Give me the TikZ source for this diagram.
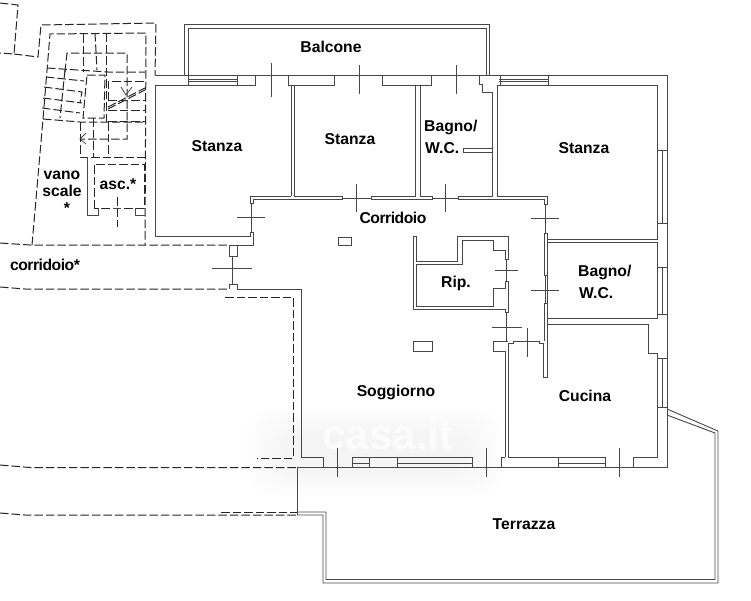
\documentclass[tikz,border=0pt]{standalone}
\usepackage{fontspec}
\setmainfont{Liberation Sans}
\tikzset{
  wall/.style={draw=black!72,line width=.9pt,line join=miter},
  thin wall/.style={draw=black!72,line width=.8pt},
  dash wall/.style={draw=black!85,line width=1pt,dash pattern=on 8.5pt off 3pt},
  room label/.style={font=\bfseries\fontsize{15.7}{18}\selectfont,text=black,inner sep=0pt,align=left},
  tight label/.style={room label,font=\bfseries\fontsize{15.7}{18}\selectfont\addfontfeature{LetterSpace=-3}},
  glow/.style={fill=black,fill opacity=.0028,draw=none}
}
\begin{document}
\begin{tikzpicture}[x=1pt,y=-1pt]
\useasboundingbox[fill=white] (0,0) rectangle (751,600);
% watermark glow
\foreach \d in {0,4,...,36} {
  \fill[glow,rounded corners=26pt] (245+\d,408+\d*.7) rectangle (505-\d,497-\d*.7);
}
\node[font=\bfseries\fontsize{42}{42}\selectfont,text=white,text opacity=.7,inner sep=0pt] (wm) at (388,434) {casa.it};

% ---------- dashed surroundings ----------
\draw[dash wall] (0,3) -- (18,5) -- (14,54) -- (0,53);
\draw[dash wall] (14,54) -- (38,57) -- (41,25) -- (156,23) -- (155,75);
\draw[dash wall] (0,243) -- (30,245) -- (229,245);
\draw[dash wall] (0,287) -- (25,289) -- (229,289);
\draw[dash wall] (225,297) -- (293,297) -- (293,458) -- (257,458);
\draw[dash wall] (0,465) -- (30,467.5) -- (297,467.5);
\draw[dash wall] (0,513) -- (25,515) -- (297,515);
\draw[dash wall] (221,512) -- (297,512);
% ---------- stairwell ----------
\draw[dash wall] (32,245) -- (43,119) -- (50,34) -- (146,33) -- (145,245);
\draw[dash wall] (47,68) -- (108,72) -- (145,72);
\draw[dash wall] (46,77) -- (84,81);
\draw[dash wall] (44,87) -- (82,92) -- (80,103);
\draw[dash wall] (43,98) -- (82,103);
\draw[dash wall] (42,108) -- (80,113);
\draw[dash wall] (43,119) -- (80,122) -- (145,122);
\draw[dash wall] (65,72) -- (67,53) -- (127,53) -- (127,139) -- (81,139);
\draw[dash wall] (83,34) -- (83,72);
\draw[dash wall] (95,33) -- (97,70);
\draw[dash wall] (106,33) -- (106,122);
\draw[dash wall] (65,70) -- (60,118);
\draw[dash wall] (87,75) -- (105,75) -- (104,118) -- (83,118) -- cycle;
\draw[dash wall] (108,100) -- (108,81) -- (145,81);
\draw[dash wall] (108,100) -- (145,100);
\draw[dash wall] (108,110) -- (145,110);
\draw[dash wall] (108,121) -- (145,121);
\draw[dash wall] (108,107) -- (145,88);
\draw[dash wall] (108,109) -- (145,90);
\draw[thin wall] (121,87) -- (126,95) -- (132,87);
\draw[thin wall] (86,133) -- (80,139) -- (86,144);
\draw[dash wall] (80,122) -- (80,157) -- (145,157);
\draw[dash wall] (93,118) -- (93,157);
\draw[dash wall] (108,122) -- (108,157);
\draw[wall] (87,157) -- (87,215) -- (98,215) -- (98,208);
\draw[dash wall] (94,208) -- (94,164) -- (144,164) -- (144,208) -- cycle;
\draw[wall] (135,208) -- (135,215) -- (145,215);
\draw[dash wall] (117,197) -- (117,227);
\draw[thin wall] (113,208) -- (121,208);

% ---------- balcony ----------
\draw[wall] (184,75) -- (184,24) -- (489,24) -- (489,75);
\draw[wall] (188,75) -- (188,28) -- (486,28) -- (486,75);
% ---------- outer walls ----------
\draw[wall] (155,75) -- (667,75) -- (667,467.5) -- (501,467.5);
% window stanza 1
\draw[wall] (188,75) -- (188,85);
\draw[wall] (237,75) -- (237,85);
\draw[thin wall] (188,79) -- (237,79) (188,81) -- (237,81);
% stanza 1
\draw[wall] (255,75) -- (255,85) -- (155,85) -- (155,236) -- (250,236) -- (250,232) -- (253,232) -- (253,245) -- (229,245) -- (229,256) -- (237,256) -- (237,245);
\draw[wall] (291,196) -- (250,196) -- (250,203) -- (253,203) -- (253,199) -- (342,199) -- (342,196) -- (294,196) -- (294,85) -- (288,85) -- (288,75);
\draw[wall] (291,85) -- (291,196);
\draw[thin wall] (251.5,203) -- (251.5,232);
\draw[thin wall] (232.5,256) -- (232.5,284);
\draw[wall] (229,289) -- (229,284) -- (237,284) -- (237,289) -- (301,289) -- (301,457) -- (323,457) -- (323,467.5);
\draw[thin wall] (237,217) -- (265,217);
\draw[thin wall] (212,268) -- (252,268);
\draw[thin wall] (271,63) -- (271,97);
% stanza 2
\draw[wall] (294,85) -- (334,85) -- (334,75);
\draw[wall] (382,75) -- (382,85) -- (431,85) -- (431,75);
\draw[wall] (415,85) -- (415,196) -- (371,196) -- (371,199) -- (432,199) -- (432,196) -- (420,196) -- (420,85);
\draw[thin wall] (359,65) -- (359,94);
\draw[thin wall] (342,198) -- (371,198);
\draw[thin wall] (356,184) -- (356,212);
% bagno 1
\draw[thin wall] (456,65) -- (456,94);
\draw[thin wall] (432,198) -- (458,198);
\draw[thin wall] (445,184) -- (445,212);
\draw[wall] (479,75) -- (479,84) -- (482,84) -- (482,92) -- (492,92) -- (492,196) -- (458,196) -- (458,199) -- (544,199) -- (544,204) -- (547,204) -- (547,196) -- (497,196) -- (497,85) -- (657,85) -- (657,239) -- (547,239);
\draw[wall] (500,75) -- (500,85);
\draw[wall] (492,148) -- (463,148) -- (463,152) -- (492,152);
% stanza 3 window top
\draw[wall] (548,75) -- (548,85);
\draw[thin wall] (499,79) -- (548,79) (499,81) -- (548,81);
% east windows
\draw[wall] (657,150) -- (667,150) (657,223) -- (667,223) (662,150) -- (662,223);
\draw[wall] (657,267) -- (667,267) (657,314) -- (667,314) (662,267) -- (662,314);
\draw[wall] (657,358) -- (667,358) (657,407) -- (667,407) (662,358) -- (662,407);
% right corridor wall
\draw[thin wall] (545.5,204) -- (545.5,233);
\draw[wall] (544,233) -- (547,233) -- (547,275) -- (544,275) -- cycle;
\draw[thin wall] (545.5,275) -- (545.5,303);
\draw[thin wall] (531,218) -- (559,218);
\draw[thin wall] (531,290) -- (559,290);
% bagno 2
\draw[wall] (547,242) -- (657,242) -- (657,318) -- (547,318) -- cycle;
\draw[wall] (544,303) -- (547,303) -- (547,377) -- (543,377) -- (543,343) -- (539,343) -- (539,341);
\draw[wall] (544,303) -- (544,341);
% cucina
\draw[wall] (547,324) -- (648,324) -- (648,353) -- (657,353) -- (657,457) -- (633,457) -- (633,467.5);
\draw[wall] (558,457) -- (558,467.5) (605,457) -- (605,467.5);
\draw[wall] (508,457) -- (605,457);
\draw[thin wall] (558,463) -- (605,463);
\draw[wall] (508,457) -- (508,343) -- (513,343) -- (513,341);
\draw[thin wall] (513,341) -- (539,341);
\draw[wall] (505,457) -- (505,351) -- (493,351) -- (493,341) -- (508,341);
\draw[wall] (505,457) -- (501,457) -- (501,467.5);
\draw[thin wall] (527,328) -- (527,357);
\draw[thin wall] (619,448) -- (619,477);
\draw[thin wall] (486,448) -- (486,477);
\draw[thin wall] (337,448) -- (337,477);
% bottom line and living-room window
\draw[wall] (297,467.5) -- (501,467.5);
\draw[wall] (352,467.5) -- (352,457) -- (472,457) -- (472,467.5);
\draw[wall] (369,457) -- (369,467.5) (397,457) -- (397,467.5);
\draw[thin wall] (352,463) -- (369,463) (397,463) -- (472,463);
% ripostiglio
\draw[wall] (416,306) -- (416,264) -- (462,264) -- (462,240) -- (493,240) -- (493,250) -- (505,250) -- (505,259) -- (508,259) -- (508,236) -- (457,236) -- (457,261) -- (416,261) -- (416,236) -- (413,236) -- (413,309) -- (505,309) -- (505,312) -- (508,312) -- (508,281) -- (505,281) -- (505,288) -- (493,288) -- (493,306) -- cycle;
\draw[thin wall] (506.5,259) -- (506.5,281);
\draw[thin wall] (506.5,312) -- (506.5,341);
\draw[thin wall] (495,270) -- (518,270);
\draw[thin wall] (492,327) -- (522,327);
% shafts
\draw[wall] (413,341) rectangle (432,351);
\draw[wall] (338,237) rectangle (351,245);
% terrace
\draw[thin wall] (297,467.5) -- (297,515);
\draw[wall] (297,515) -- (323,515) -- (323,583) -- (718,583) -- (718,431) -- (667,409);
\draw[wall] (297,512) -- (326,512) -- (326,579.5) -- (715,579.5) -- (715,433) -- (667,415);

% ---------- labels ----------
\node[room label] (balcone) at (331,47) {Balcone};
\node[room label] (st1) at (217,146) {Stanza};
\node[room label] (st2) at (350,139) {Stanza};
\node[room label,anchor=west] (b1a) at (424,127) {Bagno/};
\node[room label,anchor=west] (b1b) at (425,148) {W.C.};
\node[room label] (st3) at (584,148) {Stanza};
\node[tight label] (corr) at (393,218) {Corridoio};
\node[room label] (rip) at (456,283) {Rip.};
\node[room label,anchor=west] (b2a) at (578,272) {Bagno/};
\node[room label,anchor=west] (b2b) at (579,293) {W.C.};
\node[room label] (sog) at (396,392) {Soggiorno};
\node[room label] (cuc) at (585,396) {Cucina};
\node[room label] (ter) at (524,524) {Terrazza};
\node[room label,align=center,text width=40pt] (vano) at (62,184) {vano\\[-1pt]scale};
\node[room label] (vstar) at (67,208) {*};
\node[room label] (asc) at (118,184) {asc.*};
\node[tight label] (cor2) at (45,265) {corridoio*};
\end{tikzpicture}
\end{document}
